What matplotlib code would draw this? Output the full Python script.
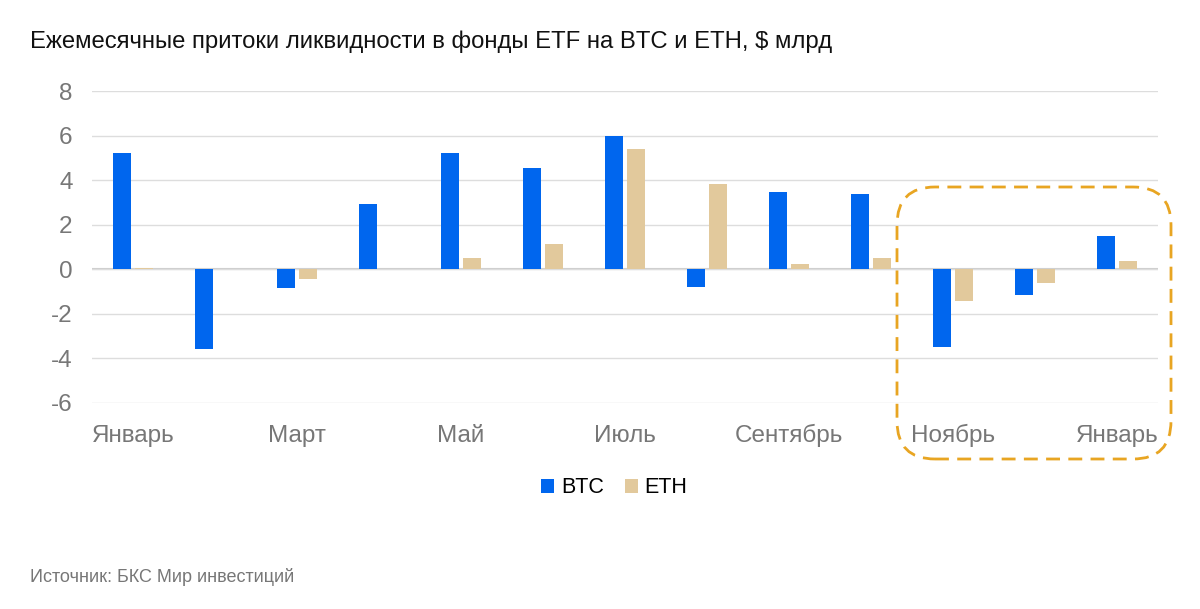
import numpy as np
import matplotlib
matplotlib.use("Agg")
import matplotlib.pyplot as plt
from matplotlib.patches import FancyBboxPatch
from matplotlib.transforms import IdentityTransform

months = ["Январь", "Февраль", "Март", "Апрель", "Май", "Июнь", "Июль",
          "Август", "Сентябрь", "Октябрь", "Ноябрь", "Декабрь", "Январь"]
btc = [5.21, -3.58, -0.84, 2.94, 5.21, 4.54, 5.98, -0.78, 3.48, 3.39, -3.49, -1.14, 1.48]
eth = [0.06, 0.0, -0.43, 0.0, 0.51, 1.12, 5.41, 3.84, 0.25, 0.51, -1.45, -0.64, 0.37]
yticks = [-6, -4, -2, 0, 2, 4, 6, 8]

plt.rcParams['font.family'] = ['Liberation Sans', 'DejaVu Sans']

fig = plt.figure(figsize=(12, 6.09), dpi=100)
ax = fig.add_axes([0.0767, 0.3383, 0.8883, 0.5123])

x = np.arange(len(months))
w = 0.22
ax.bar(x - 0.135, btc, w, color='#0066EE', label='BTC', zorder=3)
ax.bar(x + 0.135, eth, w, color='#E2C99C', label='ETH', zorder=3)

ax.set_xlim(-0.5, len(months) - 0.5)
ax.set_ylim(-6.02, 8.02)
ax.set_yticks(yticks)
ax.set_yticklabels([str(v) for v in yticks])
ax.grid(axis='y', color='#DDDDDD', linewidth=1, zorder=0)
ax.axhline(0, color='#CCCCCC', linewidth=1.5, zorder=1)
for s in ax.spines.values():
    s.set_visible(False)
ax.tick_params(axis='both', length=0, labelsize=17.5, colors='#777777')
ax.tick_params(axis='y', pad=14)
ax.tick_params(axis='x', pad=28)

shown = list(range(0, len(months), 2))
ax.set_xticks(shown)
ax.set_xticklabels([months[i] for i in shown])
# одна базовая линия для всех подписей месяцев
for lbl in ax.get_xticklabels():
    lbl.set_va('baseline')

fig.text(0.025, 0.932, "Ежемесячные притоки ликвидности в фонды ETF на BTC и ETH, $ млрд",
         fontsize=17.2, color='#111111', va='center')
fig.text(0.025, 0.052, "Источник: БКС Мир инвестиций", fontsize=13,
         color='#777777', va='center')

fig.legend(loc='center', bbox_to_anchor=(0.512, 0.199), ncol=2, frameon=False,
           fontsize=15.5, handlelength=0.6, handleheight=0.6, handletextpad=0.3,
           columnspacing=1.0)

box = FancyBboxPatch((897, 150), 274, 272, boxstyle="round,pad=0,rounding_size=38",
                     transform=IdentityTransform(), fill=False, edgecolor='#E8A522',
                     linewidth=2, linestyle=(0, (5, 3)))
fig.patches.append(box)

fig.savefig("out.png", dpi=100)
